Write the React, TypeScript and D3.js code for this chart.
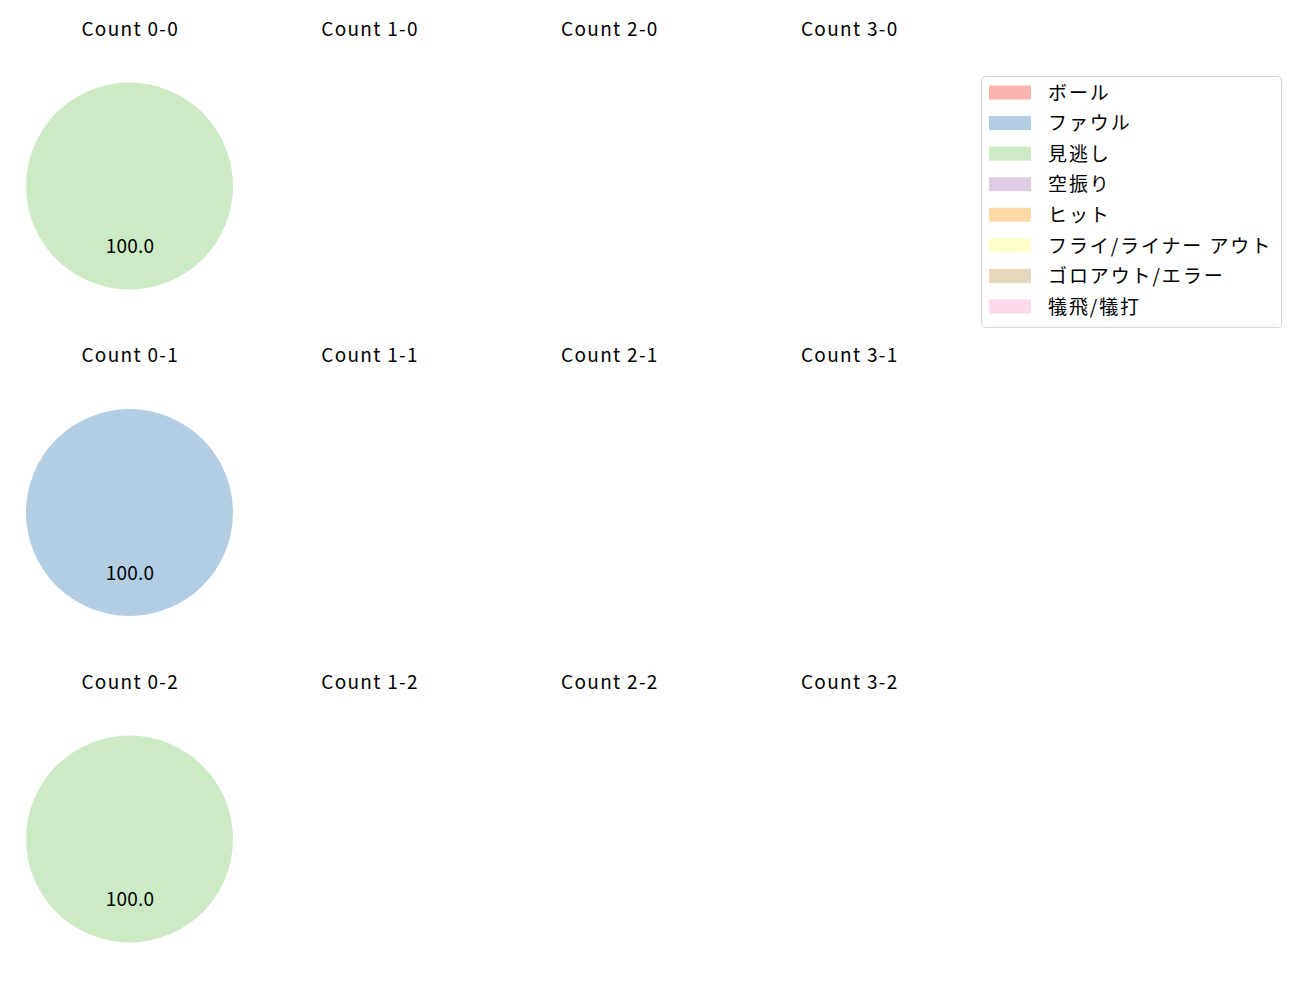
import { useEffect, useRef } from "react";
import * as d3 from "d3";

const CATEGORIES = [
  "ボール",
  "ファウル",
  "見逃し",
  "空振り",
  "ヒット",
  "フライ/ライナー アウト",
  "ゴロアウト/エラー",
  "犠飛/犠打",
];
const COLORS = ["#fbb4ae", "#b3cde3", "#ccebc5", "#decbe4", "#fed9a6", "#ffffcc", "#e5d8bd", "#fddaec"];

const BALLS = [0, 1, 2, 3];
const STRIKES = [0, 1, 2];

// share per category for each count (empty = no pitches)
const COUNT_0_0 = [0, 0, 100, 0, 0, 0, 0, 0];
const COUNT_0_1 = [0, 100, 0, 0, 0, 0, 0, 0];
const COUNT_0_2 = [0, 0, 100, 0, 0, 0, 0, 0];
const COUNT_VALUES: Record<string, number[]> = {
  "0-0": COUNT_0_0,
  "0-1": COUNT_0_1,
  "0-2": COUNT_0_2,
};

const FONT = "'Noto Sans CJK JP', 'Noto Sans', sans-serif";

export default function App() {
  const svgRef = useRef<SVGSVGElement>(null);

  useEffect(() => {
    if (!svgRef.current) return;
    const svg = d3.select(svgRef.current);
    svg.selectAll("*").remove();

    const colX = d3.scaleLinear().domain([0, 3]).range([129.5, 849]);
    const rowY = d3.scaleLinear().domain([0, 2]).range([186, 839]);
    const radius = 103.5;

    const pie = d3
      .pie<number>()
      .value((d) => d)
      .sort(null)
      .startAngle(0)
      .endAngle(2 * Math.PI);
    const arc = d3.arc<d3.PieArcDatum<number>>().innerRadius(0).outerRadius(radius);

    STRIKES.forEach((s) => {
      BALLS.forEach((b) => {
        const cx = colX(b);
        const cy = rowY(s);
        const g = svg.append("g").attr("transform", `translate(${cx},${cy})`);

        g.append("text")
          .attr("x", 0.7)
          .attr("y", -157)
          .attr("dy", "0.35em")
          .attr("text-anchor", "middle")
          .attr("font-family", FONT)
          .attr("font-size", "19px")
          .attr("letter-spacing", "1.3px")
          .attr("fill", "#000")
          .text(`Count ${b}-${s}`);

        const vals = COUNT_VALUES[`${b}-${s}`];
        if (!vals) return;
        const total = d3.sum(vals);
        const arcs = pie(vals).filter((a) => a.value > 0);

        g.selectAll("path.slice")
          .data(arcs)
          .join("path")
          .attr("class", "slice")
          .attr("d", arc)
          .attr("fill", (a) => COLORS[a.index]);

        g.selectAll("text.pct")
          .data(arcs)
          .join("text")
          .attr("class", "pct")
          .attr("x", (a) => Math.sin((a.startAngle + a.endAngle) / 2) * radius * 0.6 + 0.5)
          .attr("y", (a) => -Math.cos((a.startAngle + a.endAngle) / 2) * radius * 0.6)
          .attr("dy", "0.28em")
          .attr("text-anchor", "middle")
          .attr("font-family", FONT)
          .attr("font-size", "19px")
          .attr("letter-spacing", "0.2px")
          .attr("fill", "#000")
          .text((a) => ((a.value / total) * 100).toFixed(1));
      });
    });

    // Legend
    const legend = svg.append("g").attr("transform", "translate(981,76)");
    legend
      .append("rect")
      .attr("x", 0.5)
      .attr("y", 0.5)
      .attr("width", 300)
      .attr("height", 251)
      .attr("rx", 4)
      .attr("fill", "#fff")
      .attr("stroke", "#d5d5d5");

    const rowScale = d3.scaleLinear().domain([0, CATEGORIES.length - 1]).range([16.5, 230.5]);
    CATEGORIES.forEach((c, i) => {
      const y = rowScale(i);
      legend
        .append("rect")
        .attr("x", 8)
        .attr("y", y - 7)
        .attr("width", 42)
        .attr("height", 14)
        .attr("fill", COLORS[i]);
      legend
        .append("text")
        .attr("x", 67)
        .attr("y", y)
        .attr("dy", "0.38em")
        .attr("font-family", FONT)
        .attr("font-size", "19px")
        .attr("letter-spacing", "1.9px")
        .attr("fill", "#000")
        .text(c);
    });
  }, []);

  return (
    <svg
      ref={svgRef}
      width={1300}
      height={1000}
      style={{ position: "absolute", left: 0, top: 0, background: "#fff" }}
    />
  );
}
